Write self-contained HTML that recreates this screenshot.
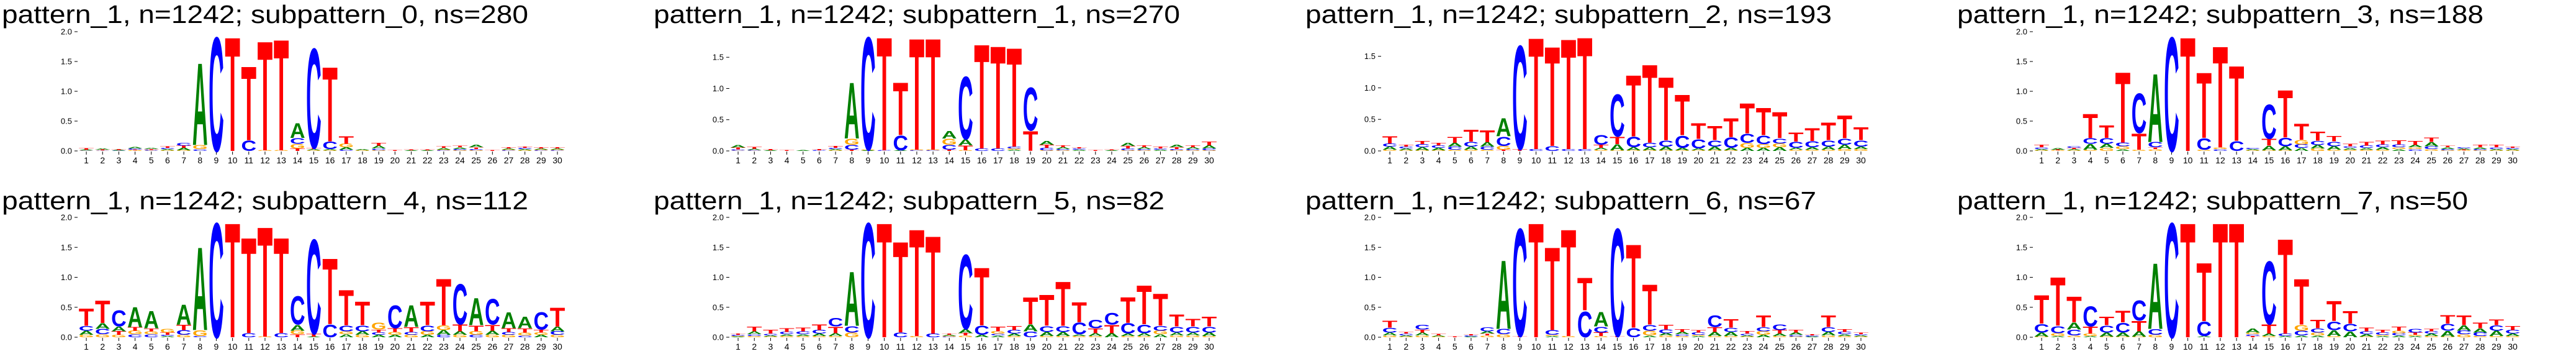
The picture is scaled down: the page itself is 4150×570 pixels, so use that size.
<!DOCTYPE html>
<html><head><meta charset="utf-8">
<style>
html,body{margin:0;padding:0;background:#fff;width:4150px;height:570px;overflow:hidden;}
svg{display:block;overflow:hidden;}
</style></head>
<body>
<svg id="fig" width="4150" height="570" viewBox="0 0 4150 570" xmlns="http://www.w3.org/2000/svg"></svg>
<script>
const positions = [1,2,3,4,5,6,7,8,9,10,11,12,13,14,15,16,17,18,19,20,21,22,23,24,25,26,27,28,29,30];
const panelNames = ["subpattern_0","subpattern_1","subpattern_2","subpattern_3","subpattern_4","subpattern_5","subpattern_6","subpattern_7"];
const panelNs = [280,270,193,188,112,82,67,50];
const yTickValues = [0,0.5,1.0,1.5,2.0];
const yTickLabels = ["0.0","0.5","1.0","1.5","2.0"];

const sp0_A = [.01,.02,.01,.03,.02,.02,.04,1.44,0,0,0,0,0,.26,.02,.02,.04,.02,.05,0,.01,.01,.03,.03,.04,0,.02,.02,.02,.02];
const sp0_C = [.005,.005,.005,.02,.01,.02,.05,.03,2.0,0,.18,0,0,.1,1.75,.13,.02,0,.03,0,0,0,.01,.02,.02,0,.01,.02,.01,.01];
const sp0_G = [.005,.005,0,.01,.005,.01,.01,.07,0,0,0,.01,.01,.08,.01,.01,.06,.01,.01,0,0,0,.01,.01,.01,0,.01,.01,.01,.01];
const sp0_T = [.03,.01,.015,.01,.015,.03,.04,0,0,2.0,1.3,1.92,1.95,.04,.02,1.31,.13,0,.05,.01,.01,.01,.03,.03,.03,.01,.02,.02,.02,.02];

const sp1_A = [.04,.02,.01,0,.01,0,.02,.94,.01,0,.01,0,0,.13,.1,0,0,.02,0,.06,.03,.02,0,.01,.05,.03,.02,.04,.03,.05];
const sp1_C = [.02,.01,0,0,0,.01,.02,.08,1.89,.01,.25,.01,.01,.08,1.05,.04,.04,.03,.72,.04,.02,.02,0,0,.03,.02,.02,.02,.02,.03];
const sp1_G = [.005,.005,0,0,0,0,.01,.1,.01,0,0,.01,.01,.1,.01,0,0,.02,0,.01,.01,0,0,0,.01,.01,0,.01,.01,.01];
const sp1_T = [.03,.03,.02,.01,0,.02,.03,.02,0,1.9,.88,1.87,1.87,.02,.08,1.75,1.72,1.66,.33,.05,.03,.02,.01,.01,.04,.03,.03,.03,.03,.06];

const sp2_A = [.05,.03,.05,.04,.06,.05,.07,.3,0,0,0,0,0,.03,.1,.05,.05,.06,.04,.03,.06,.04,.05,.05,.06,.03,.04,.05,.07,.04];
const sp2_C = [.05,.03,.05,.04,.05,.08,.05,.15,1.72,.03,.08,.03,.03,.16,.7,.17,.07,.1,.2,.15,.1,.17,.15,.14,.08,.1,.1,.1,.1,.1];
const sp2_G = [.02,.01,.01,.01,.02,.02,.02,.06,0,0,0,0,0,.02,.01,.01,.01,.01,.01,.01,.01,.01,.08,.06,.06,.02,.02,.02,.03,.03];
const sp2_T = [.12,.03,.05,.04,.1,.2,.2,.02,.03,1.85,1.65,1.83,1.86,.05,.12,1.02,1.3,1.05,.67,.26,.23,.31,.5,.45,.43,.15,.21,.29,.38,.21];

const sp3_A = [.02,.03,.02,.1,.07,.03,0,1.2,0,0,0,0,0,.02,.08,.07,.05,.06,.06,.03,.03,.04,.03,.04,.07,.03,.02,.03,.02,.02];
const sp3_C = [.03,0,.03,.1,.1,.06,.7,.09,2.0,0,.2,.03,.17,.02,.6,.15,.06,.07,.08,.03,.04,.05,.05,.03,.05,.02,.02,.02,.03,.02];
const sp3_G = [.01,.01,.01,.02,.05,.05,.02,.03,0,0,.02,.03,0,.01,.01,.01,.08,.04,.02,.02,.02,.02,.03,.03,.03,.01,.01,.01,.01,.01];
const sp3_T = [.04,.01,.02,.42,.22,1.24,.28,.03,0,2.0,1.15,1.78,1.32,0,.12,.83,.28,.16,.09,.04,.06,.06,.07,.07,.08,.03,.01,.04,.04,.02];

const sp4_A = [.07,.1,.08,.35,.3,.02,.35,1.45,0,0,0,0,0,.1,.01,0,.05,.06,.04,.04,.38,.04,.08,.06,.48,.07,.28,.2,.04,.08];
const sp4_C = [.08,.09,.28,.05,.05,.02,.08,.02,2.0,0,.07,0,.07,.5,1.65,.22,.1,.1,.04,.4,.05,.1,.04,.7,.04,.45,.05,.03,.3,.06];
const sp4_G = [.04,.05,.04,.06,.05,.06,.04,.1,0,0,0,.01,0,.06,0,0,.05,.04,.12,.05,.04,.06,.08,.04,.06,.04,.04,.05,.04,.04];
const sp4_T = [.3,.39,.06,.06,.05,.04,.09,0,0,2.0,1.67,1.92,1.67,.05,.05,1.15,.62,.41,.05,.06,.08,.41,.81,.12,.1,.1,.06,.07,.05,.33];

const sp5_A = [.01,.05,.02,.03,.03,.04,.05,.95,0,0,0,0,0,.02,.07,.04,.03,.04,.12,.07,.07,.03,.05,.07,.04,.05,.05,.05,.05,.06];
const sp5_C = [.02,.03,.03,.04,.05,.06,.15,.11,2.0,0,.08,0,.06,.01,1.3,.16,.03,.06,.1,.1,.1,.2,.15,.2,.18,.15,.08,.1,.1,.1];
const sp5_G = [.01,.02,.01,.02,.02,.02,.02,.08,0,0,0,.02,0,.01,.03,0,.04,.02,0,.02,.02,.02,.02,0,.02,.02,.06,.03,.03,.02];
const sp5_T = [.02,.08,.06,.06,.06,.1,.11,0,0,2.0,1.59,1.87,1.71,.02,.04,1.01,.08,.07,.47,.54,.77,.35,.08,.14,.45,.68,.56,.21,.13,.17];

const sp6_A = [.05,.02,.05,.02,0,.01,.04,1.2,0,0,.02,0,0,.25,0,0,.03,.04,.04,.02,.07,.07,.02,.04,.04,.04,.01,.06,.03,.02];
const sp6_C = [.08,.03,.08,0,0,.02,.07,.09,1.88,0,.08,0,.45,.1,1.88,.16,.1,.06,.03,.04,.2,.07,.03,.07,.1,.03,.02,.08,.04,.02];
const sp6_G = [.03,.01,.03,.01,0,0,.03,.05,0,0,.02,.02,0,.02,0,0,.08,.03,.02,.02,.02,.02,.01,.06,.02,.01,0,.03,.02,.01];
const sp6_T = [.12,.03,.05,.03,.01,.02,.03,0,.02,2.0,1.45,1.87,.57,.06,.02,1.46,.7,.08,.05,.04,.08,.15,.04,.2,.06,.05,.02,.2,.05,.03];

const sp7_A = [.07,.02,.12,.02,.07,.07,.09,1.15,0,0,.02,0,0,.07,.04,.02,.03,.03,.1,.1,.04,.02,.03,.02,.04,.1,.09,.07,.09,.04];
const sp7_C = [.15,.12,.1,.35,.12,.17,.35,.1,2.0,0,.25,0,0,.03,1.1,.04,.08,.07,.15,.13,.05,.04,.04,.06,.04,.12,.06,.06,.09,.06];
const sp7_G = [.01,.05,.03,.04,.01,.01,.01,.04,0,0,0,0,0,.03,.02,0,.1,.05,.02,0,.01,.02,.04,.02,.02,.01,.05,.02,.02,.02];
const sp7_T = [.5,.85,.45,.12,.15,.2,.18,0,0,2.0,1.02,2.0,2.0,.02,.16,1.66,.8,.15,.35,.22,.06,.05,.07,.04,.04,.15,.17,.1,.1,.07];

const panelData = [
  {A:sp0_A,C:sp0_C,G:sp0_G,T:sp0_T},{A:sp1_A,C:sp1_C,G:sp1_G,T:sp1_T},
  {A:sp2_A,C:sp2_C,G:sp2_G,T:sp2_T},{A:sp3_A,C:sp3_C,G:sp3_G,T:sp3_T},
  {A:sp4_A,C:sp4_C,G:sp4_G,T:sp4_T},{A:sp5_A,C:sp5_C,G:sp5_G,T:sp5_T},
  {A:sp6_A,C:sp6_C,G:sp6_G,T:sp6_T},{A:sp7_A,C:sp7_C,G:sp7_G,T:sp7_T}
];
const COLORS = {A:"#008000",C:"#0000ff",G:"#ffa500",T:"#ff0000"};
const NS = "http://www.w3.org/2000/svg";
const svg = document.getElementById("fig");
function mk(tag, attrs, parent){
  const e = document.createElementNS(NS, tag);
  for (const k in attrs) e.setAttribute(k, attrs[k]);
  parent.appendChild(e);
  return e;
}
const COLW = 26.17;
for (let p = 0; p < 8; p++) {
  const col = p % 4, row = Math.floor(p / 4);
  const x0 = 1050 * col;
  const yBottom = row === 0 ? 243 : 543;
  const yTop = row === 0 ? 51 : 350;
  const axLeft = x0 + 126;
  const d = panelData[p];
  let ymax = 0;
  for (let i = 0; i < positions.length; i++) {
    const s = d.A[i] + d.C[i] + d.G[i] + d.T[i];
    if (s > ymax) ymax = s;
  }
  const yScale = v => yBottom - v / ymax * (yBottom - yTop);
  const xCenter = i => axLeft + (i + 0.5) * COLW;

  const g = mk("g", {}, svg);
  
  

  const title = mk("text", {x: x0 + 3, y: row === 0 ? 37 : 337, "font-family": "Liberation Sans, sans-serif", "font-size": 41, fill: "#000",
    textLength: panelNs[p] >= 100 ? 848 : 823, lengthAdjust: "spacingAndGlyphs"}, g);
  
  
  title.textContent = "pattern_1, n=1242; " + panelNames[p] + ", ns=" + panelNs[p];

  for (let t = 0; t < yTickValues.length; t++) {
    if (yTickValues[t] > ymax + 1e-6) continue;
    const yy = yScale(yTickValues[t]);
    const tk = mk("line", {x1: axLeft - 6, x2: axLeft - 1, y1: yy, y2: yy, stroke: "#000", "stroke-width": 1}, g);
    
    
    const lb = mk("text", {x: axLeft - 10, y: yy + 4.5, "text-anchor": "end", "font-family": "Liberation Sans, sans-serif", "font-size": 13, fill: "#000"}, g);
    
    
    lb.textContent = yTickLabels[t];
  }
  for (let i = 0; i < positions.length; i++) {
    const xc = xCenter(i);
    const tk = mk("line", {x1: xc, x2: xc, y1: yBottom + 1, y2: yBottom + 6, stroke: "#000", "stroke-width": 1}, g);
    
    
    const lb = mk("text", {x: xc, y: yBottom + 20, "text-anchor": "middle", "font-family": "Liberation Sans, sans-serif", "font-size": 14, fill: "#000"}, g);
    
    
    lb.textContent = positions[i];
  }
  for (let i = 0; i < positions.length; i++) {
    const items = ["A","C","G","T"].map(L => ({L, v: d[L][i]})).filter(o => o.v > 0);
    items.sort((a, b) => a.v - b.v);
    let cum = 0;
    const w = COLW * 0.94;
    const lx = xCenter(i) - w / 2;
    for (const it of items) {
      const yb = yScale(cum);
      const yt = yScale(cum + it.v);
      const h = yb - yt;
      cum += it.v;
      if (h < 0.3) continue;
      const sy = h / 72.9;
      const lt = mk("text", {x: 0, y: 0, "font-family": "Liberation Sans, sans-serif", "font-weight": "bold", "font-size": 100,
        fill: COLORS[it.L], textLength: w, lengthAdjust: "spacingAndGlyphs",
        transform: "translate(" + lx.toFixed(2) + "," + yb.toFixed(2) + ") scale(1," + sy.toFixed(5) + ")"}, g);
      
      
      lt.textContent = it.L;
    }
  }
}
</script>
</body></html>
